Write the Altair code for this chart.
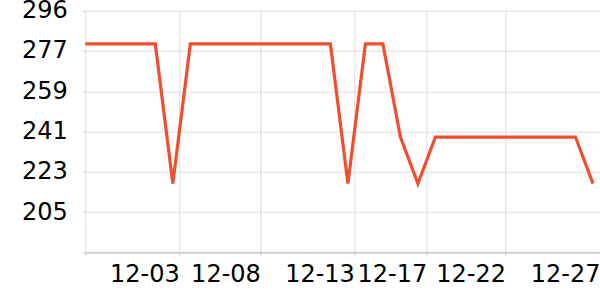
import altair as alt
import pandas as pd

# data
idx = list(range(30))
values = [281, 281, 281, 281, 281, 218, 281, 281, 281, 281,
          281, 281, 281, 281, 281, 218, 281, 281, 239, 218,
          239, 239, 239, 239, 239, 239, 239, 239, 239, 218]

x_tick_pos = [0, 5.37, 10, 15.37, 19.5, 24, 29.4]
x_tick_labels = ["", "12-03", "12-08", "12-13", "12-17", "12-22", "12-27"]
y_ticks = [187, 205.17, 223.33, 241.5, 259.67, 277.83, 296]

df = pd.DataFrame({"i": idx, "v": values})

label_map = "{" + ",".join(f"'{p}': '{l}'" for p, l in zip(x_tick_pos, x_tick_labels)) + "}"

font = "DejaVu Sans"

chart = alt.Chart(df).mark_line(color="#f04e2f", strokeWidth=3.2).encode(
    x=alt.X("i:Q",
            scale=alt.Scale(domain=[0, 29.4], nice=False, zero=False),
            axis=alt.Axis(values=x_tick_pos,
                          labelExpr=label_map + "[toString(datum.value)]",
                          title=None, labelAlign="right", labelFont=font,
                          labelFontSize=24, labelColor="#000", labelPadding=7,
                          tickSize=3, tickColor="#ccc", domainColor="#bbb",
                          gridColor="#dddddd", labelFlush=False,
                          labelOverlap=False, labelBound=False)),
    y=alt.Y("v:Q",
            scale=alt.Scale(domain=[187, 296], nice=False, zero=False),
            axis=alt.Axis(values=y_ticks,
                          labelExpr="datum.value < 190 ? '' : toString(floor(datum.value))",
                          title=None, labelFont=font, labelFontSize=24,
                          labelColor="#000", labelPadding=15, tickSize=3,
                          tickColor="#ccc", domain=False, gridColor="#dddddd",
                          labelOverlap=False, labelFlush=False, labelBound=False)),
).properties(
    width=514.7, height=241.6,
    padding={"left": 85.3, "top": 10.7, "right": 0, "bottom": 47.7},
    autosize=alt.AutoSizeParams(type="none"),
).configure_view(stroke=None)

chart.save("out.html", embed_options={"renderer": "svg", "actions": False})
